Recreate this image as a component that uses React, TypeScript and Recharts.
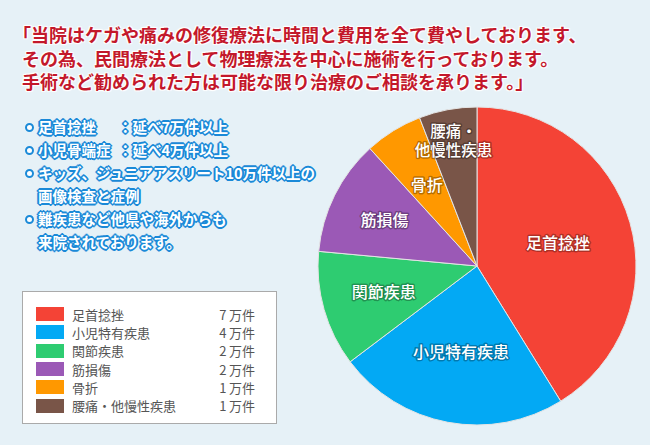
import { Legend, Pie, PieChart, Cell } from "recharts";

const categories = ["足首捻挫", "小児特有疾患", "関節疾患", "筋損傷", "骨折", "腰痛・他慢性疾患"];
const counts = [7, 4, 2, 2, 1, 1];
const colors = ["#f44336", "#03a9f4", "#2ecc71", "#9b59b6", "#ff9800", "#795548"];
// how far out each slice label sits, as a share of the radius
const labelReach = [0.53, 0.55, 0.61, 0.65, 0.6, 0.8];

const titleLines = [
  "「当院はケガや痛みの修復療法に時間と費用を全て費やしております、",
  "その為、民間療法として物理療法を中心に施術を行っております。",
  "手術など勧められた方は可能な限り治療のご相談を承ります。」",
];

const bulletLines = [
  { bullet: true, head: "足首捻挫", text: "：延べ7万件以上" },
  { bullet: true, head: "小児骨端症", text: "：延べ4万件以上" },
  { bullet: true, head: "", text: "キッズ、ジュニアアスリート10万件以上の" },
  { bullet: false, head: "", text: "画像検査と症例" },
  { bullet: true, head: "", text: "難疾患など他県や海外からも" },
  { bullet: false, head: "", text: "来院されております。" },
];

const data = categories.map((name, i) => ({ name, count: counts[i] }));

const FONT = '"Noto Sans CJK JP", "Noto Sans", sans-serif';
const RADIAN = Math.PI / 180;

function SliceLabel(props: any) {
  const { cx, cy, midAngle, outerRadius, index, name } = props;
  const r = outerRadius * labelReach[index];
  const x = cx + r * Math.cos(-midAngle * RADIAN);
  const y = cy + r * Math.sin(-midAngle * RADIAN);
  const lines: string[] = name.includes("・")
    ? [name.slice(0, name.indexOf("・") + 1), name.slice(name.indexOf("・") + 1)]
    : [name];
  const lh = 19;
  const size = lines.length > 1 ? 15.5 : 16;
  return (
    <g>
      {lines.map((l, i) => (
        <text
          key={i}
          x={x}
          y={y + (i - (lines.length - 1) / 2) * lh + size * 0.36}
          textAnchor="middle"
          fill="#fff"
          stroke="rgba(0,0,0,0.28)"
          strokeWidth={3}
          strokeLinejoin="round"
          paintOrder="stroke"
          fontFamily={FONT}
          fontSize={size}
          fontWeight={500}
        >
          {l}
        </text>
      ))}
    </g>
  );
}

function LegendBox(props: any) {
  const payload: any[] = props.payload || [];
  return (
    <div
      style={{
        boxSizing: "border-box",
        width: 255,
        height: 133,
        background: "#fff",
        border: "1px solid #aaa",
        padding: "13px 21px 0 13px",
        fontFamily: FONT,
        fontSize: 13,
        color: "#555",
      }}
    >
      {categories.map((name, i) => {
        const entry = payload.find((p) => p.value === name);
        return (
          <div key={name} style={{ display: "flex", alignItems: "center", height: 18.3 }}>
            <span
              style={{ width: 28, height: 14, background: entry?.color ?? colors[i], marginRight: 8 }}
            />
            <span style={{ flex: 1 }}>{name}</span>
            <span>{counts[i]}&thinsp;万件</span>
          </div>
        );
      })}
    </div>
  );
}

const haloRed =
  "0 0 2px #fff, 0 0 2px #fff, 1px 1px 1px #fff, -1px -1px 1px #fff, 1px -1px 1px #fff, -1px 1px 1px #fff";
const haloBlue =
  "0 0 2px #1b8ad8, 1px 1px 0 #1b8ad8, -1px -1px 0 #1b8ad8, 1px -1px 0 #1b8ad8, -1px 1px 0 #1b8ad8, 2px 0 0 #1b8ad8, -2px 0 0 #1b8ad8, 0 2px 0 #1b8ad8, 0 -2px 0 #1b8ad8";

export default function App() {
  return (
    <div
      style={{
        position: "absolute",
        left: 0,
        top: 0,
        width: 650,
        height: 445,
        background: "#e6f1f7",
        overflow: "hidden",
        fontFamily: FONT,
      }}
    >
      <div style={{ position: "absolute", left: 0, top: 0 }}>
        <PieChart width={650} height={445} margin={{ top: 0, right: 0, bottom: 0, left: 0 }}>
          <Pie
            data={data}
            dataKey="count"
            nameKey="name"
            cx={477}
            cy={266}
            outerRadius={159}
            startAngle={90}
            endAngle={-270}
            stroke="#e4e4e4"
            strokeWidth={1}
            label={SliceLabel}
            labelLine={false}
            isAnimationActive={false}
          >
            {data.map((d, i) => (
              <Cell key={d.name} fill={colors[i]} />
            ))}
          </Pie>
          <Legend
            content={LegendBox}
            wrapperStyle={{ left: 22, top: 291, width: 255, bottom: "auto" }}
          />
        </PieChart>
      </div>

      {titleLines.map((line, i) => (
        <div
          key={i}
          style={{
            position: "absolute",
            left: i === 0 ? 13 : 22,
            top: 24 + i * 23.5,
            fontSize: 18,
            fontWeight: 700,
            lineHeight: "20px",
            color: "#c3182b",
            whiteSpace: "nowrap",
            textShadow: haloRed,
          }}
        >
          {line}
        </div>
      ))}

      {bulletLines.map((b, i) => (
        <div
          key={i}
          style={{
            position: "absolute",
            left: 25,
            top: 117 + i * 23,
            fontSize: 14.5,
            fontWeight: 700,
            lineHeight: "20px",
            color: "#fff",
            whiteSpace: "nowrap",
            display: "flex",
            alignItems: "center",
            textShadow: haloBlue,
          }}
        >
          <span
            style={{
              width: 5,
              height: 5,
              borderRadius: "50%",
              background: "#fff",
              border: "2px solid #1b8ad8",
              marginRight: 4,
              visibility: b.bullet ? "visible" : "hidden",
            }}
          />
          {b.head ? <span style={{ display: "inline-block", width: 80 }}>{b.head}</span> : null}
          <span>{b.text}</span>
        </div>
      ))}
    </div>
  );
}
